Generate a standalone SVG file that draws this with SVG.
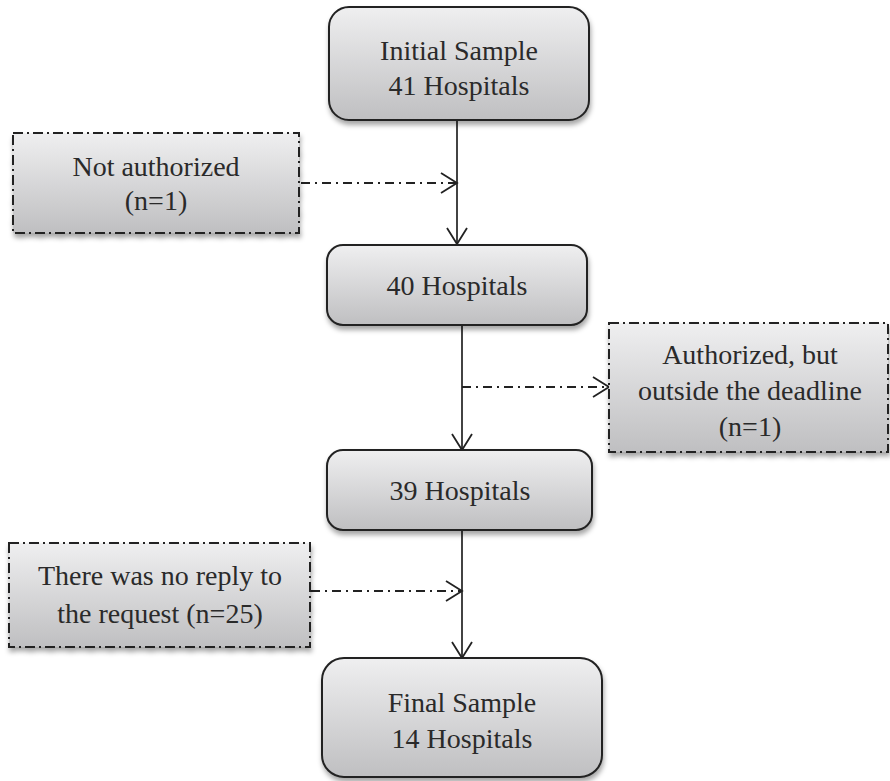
<svg xmlns="http://www.w3.org/2000/svg" width="890" height="781" viewBox="0 0 890 781">
  <style>
    .box { fill: url(#grad); stroke: #222; stroke-width: 2; filter: url(#shadow); }
    .dbox { fill: url(#grad); stroke: #222; stroke-width: 2; stroke-dasharray: 10 4 2 4; filter: url(#shadow); }
    .t { font-family: "Liberation Serif", "Times New Roman", serif; font-size: 28px; fill: #2a2a2a; text-anchor: middle; }
    .solid { stroke: #222; stroke-width: 1.7; fill: none; marker-end: url(#arr); }
    .dash { stroke: #222; stroke-width: 1.8; fill: none; stroke-dasharray: 9 5 2 5; marker-end: url(#arr); }
  </style>
  <defs>
    <linearGradient id="grad" x1="0" y1="0" x2="0" y2="1">
      <stop offset="0" stop-color="#efeff0"/>
      <stop offset="1" stop-color="#bfbfc1"/>
    </linearGradient>
    <filter id="shadow" x="-10%" y="-10%" width="125%" height="130%">
      <feDropShadow dx="1" dy="4" stdDeviation="2.5" flood-color="#000" flood-opacity="0.35"/>
    </filter>
    <marker id="arr" viewBox="0 0 16 20" markerWidth="16" markerHeight="20" refX="16" refY="10" orient="auto" markerUnits="userSpaceOnUse" overflow="visible">
      <path d="M0,0 L16,10 L0,20" fill="none" stroke="#222" stroke-width="1.8" stroke-dasharray="none"/>
    </marker>
  </defs>

  <g id="connectors">
    <line class="solid" x1="457" y1="120" x2="457" y2="244"/>
    <line class="dash" x1="301" y1="183" x2="457" y2="183"/>
    <line class="solid" x1="462" y1="325" x2="462" y2="450"/>
    <line class="dash" x1="462" y1="387" x2="609" y2="387"/>
    <line class="solid" x1="462" y1="530" x2="462" y2="658"/>
    <line class="dash" x1="311" y1="591" x2="462" y2="591"/>
  </g>

  <g id="initial">
    <rect class="box" x="329" y="7" width="260" height="113" rx="20" ry="20"/>
    <text class="t" x="459" y="60">Initial Sample</text>
    <text class="t" x="459" y="95">41 Hospitals</text>
  </g>

  <g id="notauth">
    <rect class="dbox" x="13" y="133" width="286" height="100"/>
    <text class="t" x="156" y="176">Not authorized</text>
    <text class="t" x="156" y="210">(n=1)</text>
  </g>

  <g id="h40">
    <rect class="box" x="327" y="245" width="260" height="80" rx="16" ry="16"/>
    <text class="t" x="457" y="295">40 Hospitals</text>
  </g>

  <g id="auth">
    <rect class="dbox" x="609" y="323" width="279" height="129"/>
    <text class="t" x="750" y="364">Authorized, but</text>
    <text class="t" x="750" y="400">outside the deadline</text>
    <text class="t" x="750" y="436">(n=1)</text>
  </g>

  <g id="h39">
    <rect class="box" x="327" y="450" width="265" height="80" rx="16" ry="16"/>
    <text class="t" x="460" y="500">39 Hospitals</text>
  </g>

  <g id="noreply">
    <rect class="dbox" x="9" y="543" width="301" height="104"/>
    <text class="t" x="160" y="585">There was no reply to</text>
    <text class="t" x="160" y="623">the request (n=25)</text>
  </g>

  <g id="final">
    <rect class="box" x="322" y="658" width="280" height="119" rx="22" ry="22"/>
    <text class="t" x="462" y="712">Final Sample</text>
    <text class="t" x="462" y="748">14 Hospitals</text>
  </g>
</svg>
